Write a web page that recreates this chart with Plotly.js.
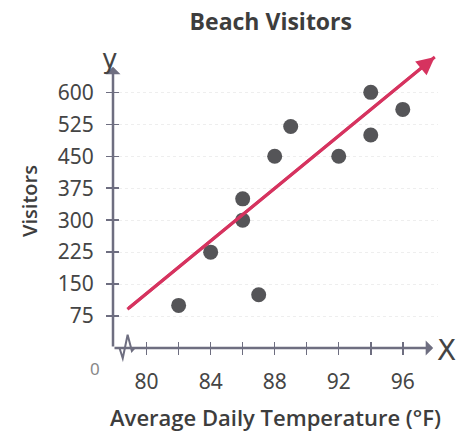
<!DOCTYPE html>
<html>
<head>
<meta charset="utf-8">
<script src="https://cdn.plot.ly/plotly-3.0.1.min.js"></script>
<style>html,body{margin:0;padding:0;background:#fff;}#chart{width:459px;height:442px;}</style>
</head>
<body>
<div id="chart"></div>
<script>
// Data
const temperature = [82, 84, 86, 86, 87, 88, 89, 92, 94, 94, 96];
const visitors    = [100, 225, 350, 300, 125, 450, 520, 450, 600, 500, 560];
const trendX = [78.8, 98.0];
const trendY = [91, 683];
const xTickVals = [80, 82, 84, 86, 88, 90, 92, 94, 96];
const xTickText = ['80', '', '84', '', '88', '', '92', '', '96'];
const yTickVals = [75, 150, 225, 300, 375, 450, 525, 600];
const xRange = [77.9, 98.2];
const yRange = [0, 690];

const axisColor = '#6e6e80';
const textColor = '#3d3d3d';
const tickFont = {family: 'Noto Sans, Open Sans, sans-serif', size: 21, color: '#454545'};

const traces = [
  {
    x: temperature, y: visitors, type: 'scatter', mode: 'markers',
    marker: {size: 15, color: '#555558'}, hoverinfo: 'skip', showlegend: false
  },
  {
    x: trendX, y: trendY, type: 'scatter', mode: 'lines',
    line: {color: '#d6335f', width: 3},
    hoverinfo: 'skip', showlegend: false, cliponaxis: false
  },
  {x: [], y: [], xaxis: 'x2', yaxis: 'y2', type: 'scatter', showlegend: false}
];

const layout = {
  width: 459, height: 442,
  margin: {l: 113, r: 21, t: 54, b: 94},
  paper_bgcolor: '#ffffff', plot_bgcolor: '#ffffff',
  showlegend: false,
  title: {text: '<b>Beach Visitors</b>', x: 0.59, xanchor: 'center', y: 0.95, yanchor: 'middle',
          font: {family: 'Open Sans, Noto Sans, sans-serif', size: 23, color: textColor}},
  xaxis: {
    range: xRange, tickvals: xTickVals, ticktext: xTickText,
    ticks: 'outside', ticklen: 6, tickwidth: 1.5, tickcolor: axisColor,
    showline: false, zeroline: false, showgrid: false,
    tickfont: tickFont, ticklabelstandoff: 9,
    title: {text: 'Average Daily Temperature (°F)', standoff: 16,
            font: {family: 'Open Sans, Noto Sans, sans-serif', size: 22, color: textColor, weight: 600}}
  },
  yaxis: {
    range: yRange, tickvals: yTickVals,
    ticks: 'outside', ticklen: 6, tickwidth: 1.5, tickcolor: axisColor,
    showline: false, zeroline: false,
    showgrid: true, gridcolor: '#eeeeee', griddash: 'dot', gridwidth: 1,
    tickfont: tickFont, ticklabelstandoff: 8,
    title: {text: 'Visitors', standoff: 14,
            font: {family: 'Open Sans, Noto Sans, sans-serif', size: 20, color: textColor, weight: 600}}
  },
  xaxis2: {overlaying: 'x', anchor: 'y2', side: 'bottom', range: xRange, tickvals: xTickVals,
           ticks: 'inside', ticklen: 6, tickwidth: 1.5, tickcolor: axisColor,
           showticklabels: false, showgrid: false, zeroline: false, showline: false},
  yaxis2: {overlaying: 'y', anchor: 'x2', side: 'left', range: yRange, tickvals: yTickVals,
           ticks: 'inside', ticklen: 6, tickwidth: 1.5, tickcolor: axisColor,
           showticklabels: false, showgrid: false, zeroline: false, showline: false},
  annotations: [
    {x: xRange[0], y: 660, ax: xRange[0], ay: 0, axref: 'x', ayref: 'y', xref: 'x', yref: 'y',
     text: '', showarrow: true, arrowhead: 1, arrowsize: 1, arrowwidth: 2.5, arrowcolor: axisColor},
    {x: 97.9, y: 0, ax: xRange[0], ay: 0, axref: 'x', ayref: 'y', xref: 'x', yref: 'y',
     text: '', showarrow: true, arrowhead: 1, arrowsize: 1, arrowwidth: 2.5, arrowcolor: axisColor},
    {x: trendX[1], y: trendY[1], ax: trendX[0], ay: trendY[0], axref: 'x', ayref: 'y', xref: 'x', yref: 'y',
     text: '', showarrow: true, arrowhead: 2, arrowsize: 1.2, arrowwidth: 3, arrowcolor: '#d6335f'},
    {xref: 'paper', yref: 'y', x: -0.077, y: 0, yshift: -20, text: '0', showarrow: false,
     font: {family: 'Noto Sans, sans-serif', size: 17, color: '#888'}},
    {xref: 'paper', yref: 'y', x: 1.06, y: 0, yshift: -2, text: 'X', showarrow: false,
     font: {family: 'DejaVu Sans, sans-serif', size: 28, color: '#444'}},
    {xref: 'paper', yref: 'paper', x: -0.04, y: 1.04, text: 'y', showarrow: false,
     font: {family: 'DejaVu Sans, sans-serif', size: 26, color: '#444'}}
  ],
  shapes: [
    {type: 'path', xref: 'paper', yref: 'paper',
     path: 'M 0.02,0 L 0.03,-0.035 L 0.045,0.045 L 0.058,-0.01 L 0.066,0',
     line: {color: axisColor, width: 2}}
  ]
};

Plotly.newPlot('chart', traces, layout, {staticPlot: true, displayModeBar: false});
</script>
</body>
</html>
